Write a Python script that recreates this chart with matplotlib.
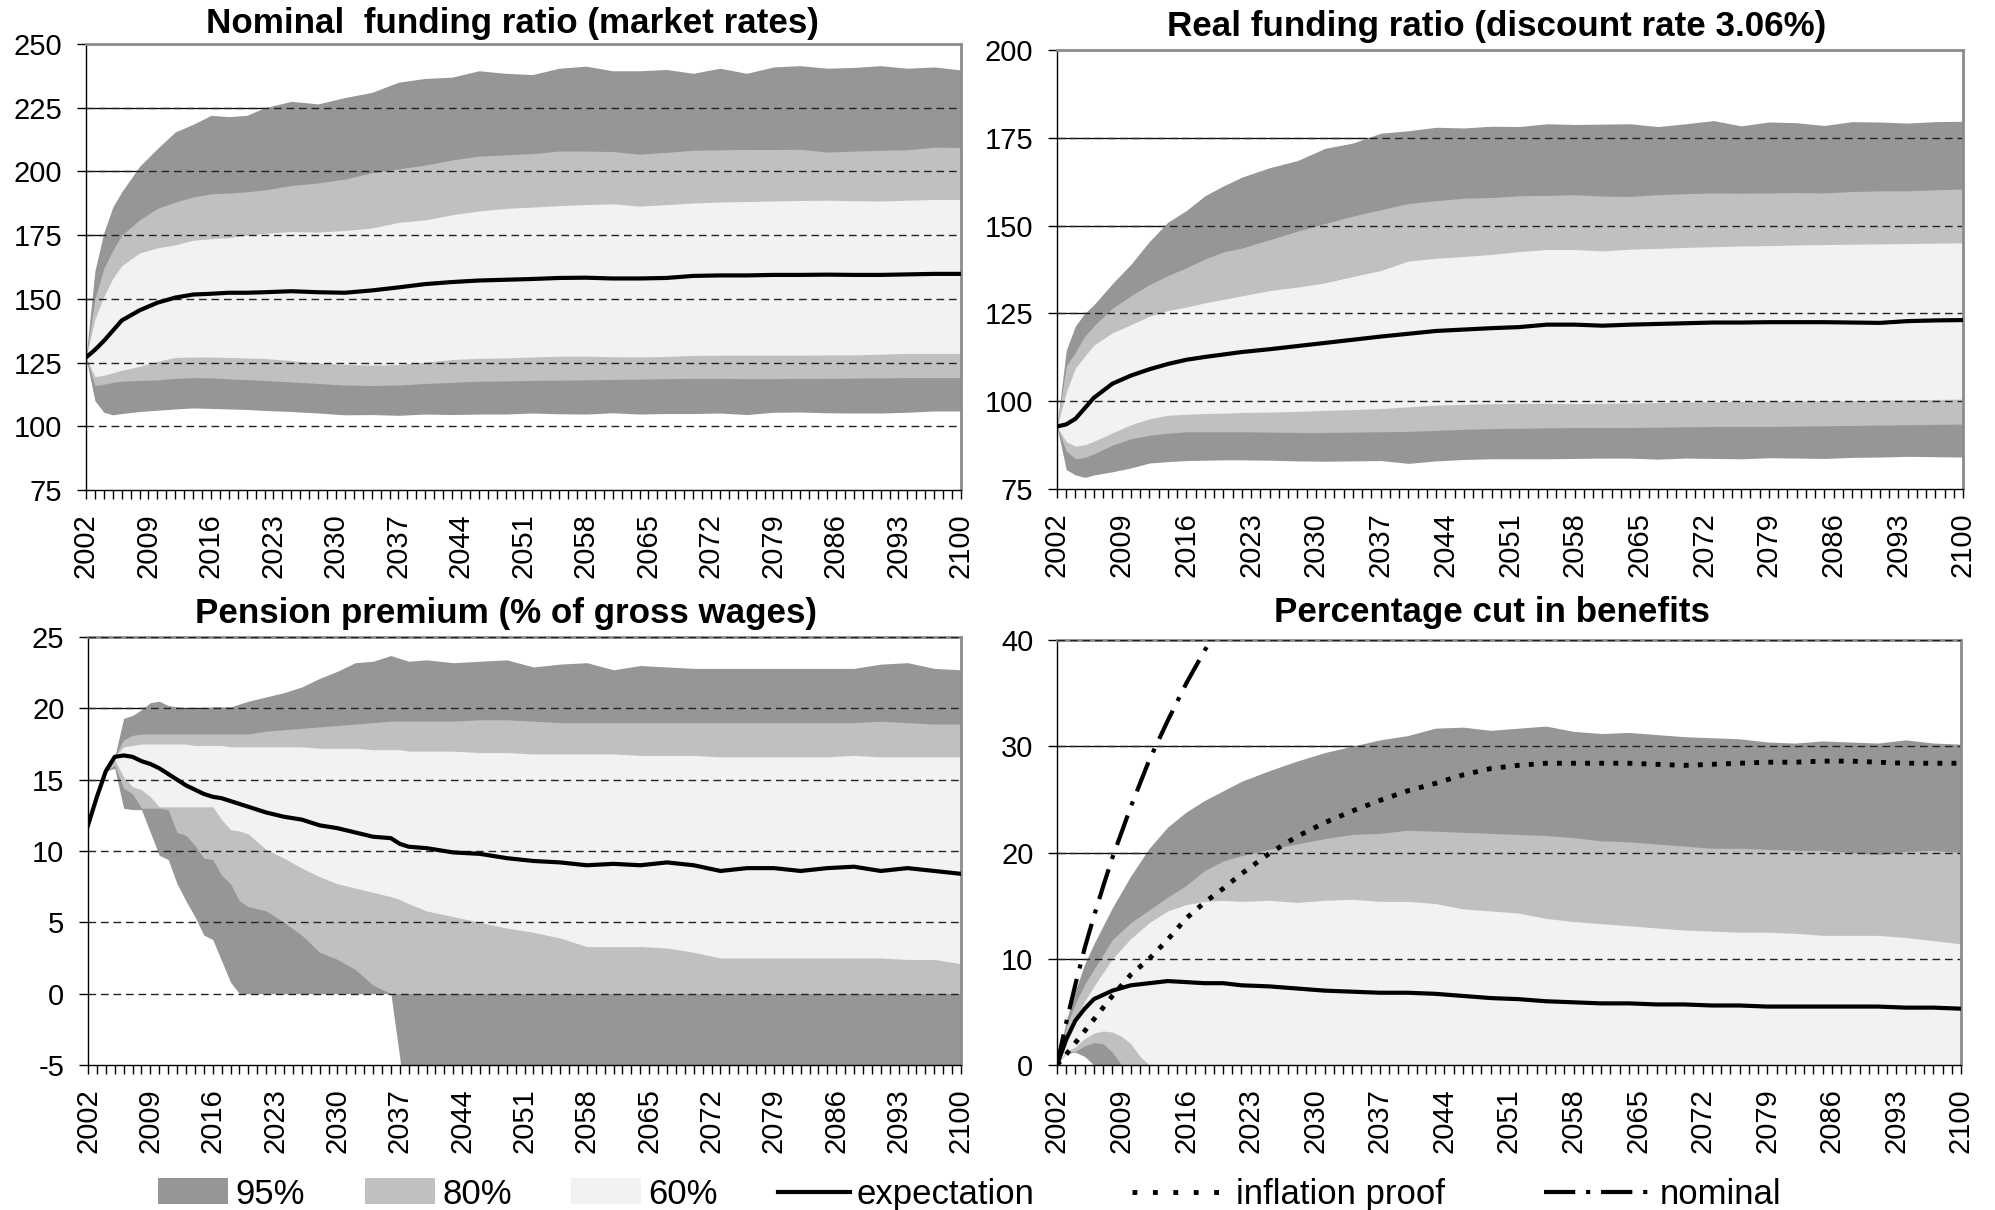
import matplotlib.pyplot as plt
from matplotlib.patches import Rectangle
from matplotlib.lines import Line2D
from matplotlib.ticker import FixedLocator, MultipleLocator

plt.rcParams['font.family'] = ['Liberation Sans', 'DejaVu Sans']
plt.rcParams['axes.unicode_minus'] = False

W, H = 1995, 1210
DARK, MID, LIGHT = '#969696', '#c0c0c0', '#f2f2f2'

# common yearly grid (denser early on, where the fans open up)
years = [2002, 2003, 2004, 2005, 2006, 2008, 2010, 2012, 2014, 2016, 2018, 2020, 2022,
         2025, 2028, 2031, 2034, 2037, 2040, 2043, 2046, 2049, 2052, 2055, 2058, 2061,
         2064, 2067, 2070, 2073, 2076, 2079, 2082, 2085, 2088, 2091, 2094, 2097, 2100]

# nominal funding ratio
nom_exp = [127, 130, 133.5, 137.5, 141.5, 145.5, 148.5, 150.5, 151.7, 152, 152.4, 152.4, 152.6,
           153, 152.6, 152.4, 153.3, 154.5, 155.8, 156.6, 157.2, 157.5, 157.8, 158.2, 158.3, 158,
           158, 158.2, 159, 159.2, 159.2, 159.4, 159.4, 159.5, 159.4, 159.4, 159.6, 159.8, 159.8]
nom_hi95 = [127, 161, 176, 186, 192, 202, 209, 215.5, 218.5, 222, 221.5, 222, 225,
            227.5, 226.5, 229, 231, 235, 236.5, 237, 239.5, 238.5, 238, 240.5, 241.3, 239.5,
            239.5, 240, 238.5, 240.5, 238.5, 241, 241.5, 240.5, 240.8, 241.5, 240.5, 241, 239.8]
nom_hi80 = [127, 150, 162, 169, 175, 181, 185.5, 188, 190, 191.2, 191.5, 192, 192.7,
            194.5, 195.5, 197, 199.5, 201, 202.5, 204.5, 206, 206.5, 207, 208, 208, 207.8,
            206.8, 207.5, 208.3, 208.5, 208.6, 208.6, 208.7, 207.6, 208, 208.3, 208.5, 209.5, 209.4]
nom_hi60 = [127, 142, 151, 158, 163, 168, 170, 171.2, 173, 173.6, 174, 175, 175.7,
            176.4, 176.2, 176.8, 177.8, 180, 181, 183, 184.5, 185.5, 186, 186.6, 187, 187.3,
            186.4, 187, 187.6, 188, 188.2, 188.4, 188.6, 188.7, 188.5, 188.4, 188.7, 189, 189]
nom_lo60 = [127, 119.5, 120, 121, 122, 123.5, 125.5, 127, 127.2, 127.2, 127, 126.8, 126.6,
            125.8, 124.8, 124.3, 124, 124.2, 125.2, 126.2, 126.7, 126.8, 127.2, 127.5, 127.5, 127.3,
            127.2, 127.4, 127.8, 127.9, 127.9, 127.9, 127.9, 128, 128, 128.3, 128.6, 128.6, 128.6]
nom_lo80 = [127, 116, 116.5, 117.2, 117.7, 118, 118.2, 118.8, 119.1, 119, 118.6, 118.3, 118,
            117.4, 116.8, 116.2, 116, 116.2, 116.8, 117.2, 117.7, 117.8, 118, 118.1, 118.2, 118.4,
            118.5, 118.7, 118.8, 118.8, 118.7, 118.7, 118.8, 118.8, 118.9, 119, 119.1, 119.1, 119.1]
nom_lo95 = [127, 110, 105.5, 104.5, 105, 105.8, 106.3, 106.8, 107.2, 107, 106.8, 106.6, 106.2,
            105.8, 105.2, 104.5, 104.6, 104.3, 104.8, 104.6, 104.8, 104.8, 105.2, 104.9, 104.8, 105.3,
            104.8, 105, 105, 105.2, 104.6, 105.5, 105.6, 105.3, 105.2, 105.2, 105.5, 106, 106]

# real funding ratio
real_exp = [92.8, 93.4, 95, 98, 101, 105, 107.3, 109.1, 110.6, 111.8, 112.6, 113.3, 114,
            114.8, 115.7, 116.6, 117.5, 118.4, 119.2, 120, 120.4, 120.8, 121.1, 121.8, 121.8, 121.5,
            121.8, 122, 122.2, 122.4, 122.4, 122.5, 122.5, 122.5, 122.4, 122.3, 122.8, 123, 123.1]
real_hi95 = [92.8, 114.5, 121.5, 125, 127.5, 133.5, 139, 145.5, 151, 154.3, 158.5, 161.3, 163.8,
             166.5, 168.5, 172, 173.5, 176.3, 177, 178, 177.8, 178.3, 178.2, 179, 178.8, 178.9,
             179, 178.2, 179, 179.9, 178.4, 179.5, 179.3, 178.5, 179.6, 179.5, 179.2, 179.6, 179.7]
real_hi80 = [92.8, 110, 114, 118.5, 121.5, 126.5, 130, 133.2, 135.8, 138, 140.5, 142.5, 143.6,
             146, 148.4, 150.6, 152.7, 154.5, 156.3, 157.1, 157.8, 158, 158.5, 158.6, 158.8, 158.4,
             158.3, 158.8, 159.1, 159.3, 159.2, 159.3, 159.4, 159.3, 159.7, 159.9, 159.9, 160.2, 160.4]
real_hi60 = [92.8, 102.5, 109.5, 112.8, 116, 119.5, 121.8, 124.2, 125.8, 126.8, 128, 129, 130,
             131.5, 132.5, 133.7, 135.5, 137.2, 139.9, 140.7, 141.2, 141.8, 142.6, 143.2, 143.2, 142.8,
             143.3, 143.5, 143.8, 144, 144.2, 144.3, 144.5, 144.6, 144.7, 144.8, 144.9, 145, 145.1]
real_lo60 = [92.8, 88.5, 87.2, 87.6, 88.6, 91, 93.3, 95, 96, 96.3, 96.5, 96.6, 96.8,
             96.9, 97.1, 97.4, 97.6, 97.9, 98.4, 98.9, 99.1, 99.3, 99.4, 99.4, 99.3, 99.4,
             99.5, 99.6, 99.8, 99.8, 99.9, 100, 100, 100.1, 100.1, 100.3, 100.4, 100.5, 100.6]
real_lo80 = [92.8, 85.8, 83.6, 84, 85, 87.5, 89.3, 90.3, 90.9, 91.3, 91.3, 91.3, 91.3,
             91.2, 91.1, 91.1, 91.2, 91.3, 91.4, 91.7, 92, 92.2, 92.3, 92.4, 92.5, 92.5,
             92.5, 92.6, 92.7, 92.8, 92.8, 92.8, 92.9, 93, 93.1, 93.2, 93.3, 93.4, 93.5]
real_lo95 = [92.8, 80.5, 79, 78.3, 79, 79.9, 81, 82.4, 82.8, 83.1, 83.2, 83.3, 83.3,
             83.2, 83, 82.9, 83, 83.1, 82.3, 83, 83.4, 83.6, 83.6, 83.6, 83.7, 83.8,
             83.8, 83.5, 83.8, 83.7, 83.6, 83.9, 83.8, 83.7, 84, 84.1, 84.3, 84.2, 84.1]

# pension premium (own grid, yearly in the first decades)
prem_years = [2002, 2003, 2004, 2005, 2006, 2007, 2008, 2009, 2010, 2011, 2012, 2013, 2014,
              2015, 2016, 2017, 2018, 2019, 2020, 2022, 2024, 2026, 2028, 2030, 2032, 2034,
              2036, 2037, 2038, 2040, 2043, 2046, 2049, 2052, 2055, 2058, 2061, 2064, 2067,
              2070, 2073, 2076, 2079, 2082, 2085, 2088, 2091, 2094, 2097, 2100]
prem_exp = [11.8, 13.8, 15.6, 16.6, 16.7, 16.6, 16.3, 16.1, 15.8, 15.4, 15.0, 14.6, 14.3,
            14.0, 13.8, 13.7, 13.5, 13.3, 13.1, 12.7, 12.4, 12.2, 11.8, 11.6, 11.3, 11.0,
            10.9, 10.5, 10.3, 10.2, 9.9, 9.8, 9.5, 9.3, 9.2, 9.0, 9.1, 9.0, 9.2,
            9.0, 8.6, 8.8, 8.8, 8.6, 8.8, 8.9, 8.6, 8.8, 8.6, 8.4]
prem_hi95 = [11.8, 13.8, 15.6, 16.6, 19.3, 19.5, 19.9, 20.4, 20.5, 20.2, 20.1, 20.0, 20.0,
             20.0, 20.1, 20.1, 20.1, 20.3, 20.5, 20.8, 21.1, 21.5, 22.1, 22.6, 23.2, 23.3,
             23.7, 23.5, 23.3, 23.4, 23.2, 23.3, 23.4, 22.9, 23.1, 23.2, 22.7, 23.0, 22.9,
             22.8, 22.8, 22.8, 22.8, 22.8, 22.8, 22.8, 23.1, 23.2, 22.8, 22.7]
prem_hi80 = [11.8, 13.8, 15.6, 16.6, 17.8, 18.1, 18.2, 18.2, 18.2, 18.2, 18.2, 18.2, 18.2,
             18.2, 18.2, 18.2, 18.2, 18.2, 18.2, 18.4, 18.5, 18.6, 18.7, 18.8, 18.9, 19.0,
             19.1, 19.1, 19.1, 19.1, 19.1, 19.2, 19.2, 19.1, 19.0, 19.0, 19.0, 19.0, 19.0,
             19.0, 19.0, 19.0, 19.0, 19.0, 19.0, 19.0, 19.1, 19.0, 18.9, 18.9]
prem_hi60 = [11.8, 13.8, 15.6, 16.6, 17.3, 17.4, 17.5, 17.5, 17.5, 17.5, 17.5, 17.5, 17.4,
             17.4, 17.4, 17.4, 17.3, 17.3, 17.3, 17.3, 17.3, 17.3, 17.2, 17.2, 17.2, 17.1,
             17.1, 17.1, 17.0, 17.0, 17.0, 16.9, 16.9, 16.8, 16.8, 16.8, 16.8, 16.7, 16.7,
             16.7, 16.6, 16.6, 16.6, 16.6, 16.6, 16.7, 16.6, 16.6, 16.6, 16.6]
prem_lo60 = [11.8, 13.8, 15.6, 16.4, 15.2, 14.5, 14.3, 13.8, 13.1, 13.1, 13.1, 13.1, 13.1,
             13.1, 13.1, 12.2, 11.5, 11.4, 11.2, 10.1, 9.5, 8.8, 8.2, 7.7, 7.4, 7.1,
             6.8, 6.6, 6.3, 5.8, 5.4, 5.0, 4.6, 4.3, 3.9, 3.3, 3.3, 3.3, 3.2,
             2.9, 2.5, 2.5, 2.5, 2.5, 2.5, 2.5, 2.5, 2.4, 2.4, 2.1]
prem_lo80 = [11.8, 13.8, 15.6, 16.0, 14.4, 14.0, 13.0, 13.0, 13.0, 12.9, 11.3, 11.1, 10.4,
             9.5, 9.4, 8.3, 7.7, 6.5, 6.1, 5.8, 5.0, 4.1, 2.9, 2.4, 1.7, 0.6,
             0, 0, 0, 0, 0, 0, 0, 0, 0, 0, 0, 0, 0,
             0, 0, 0, 0, 0, 0, 0, 0, 0, 0, 0]
prem_lo95 = [11.8, 13.8, 15.6, 15.8, 13.0, 12.9, 12.9, 11.3, 9.7, 9.4, 7.7, 6.5, 5.4,
             4.1, 3.8, 2.3, 0.8, 0, 0, 0, 0, 0, 0, 0, 0, 0,
             0, -4.5, -10, -10, -10, -10, -10, -10, -10, -10, -10, -10, -10,
             -10, -10, -10, -10, -10, -10, -10, -10, -10, -10, -10]

# percentage cut in benefits
cut_exp = [0, 2.4, 4.2, 5.3, 6.2, 7.0, 7.5, 7.7, 7.9, 7.8, 7.7, 7.7, 7.5,
           7.4, 7.2, 7.0, 6.9, 6.8, 6.8, 6.7, 6.5, 6.3, 6.2, 6.0, 5.9, 5.8,
           5.8, 5.7, 5.7, 5.6, 5.6, 5.5, 5.5, 5.5, 5.5, 5.5, 5.4, 5.4, 5.3]
cut_hi95 = [0, 4.2, 7.0, 9.5, 11.4, 14.8, 17.8, 20.4, 22.4, 23.8, 24.9, 25.8, 26.7,
            27.7, 28.6, 29.4, 30.0, 30.6, 31.0, 31.7, 31.8, 31.5, 31.7, 31.9, 31.4, 31.2,
            31.3, 31.1, 30.9, 30.8, 30.7, 30.4, 30.3, 30.5, 30.4, 30.3, 30.6, 30.3, 30.2]
cut_hi80 = [0, 3.6, 5.8, 7.6, 9.0, 11.8, 13.4, 14.6, 15.8, 16.9, 18.3, 19.2, 19.7,
            20.3, 20.8, 21.3, 21.7, 21.8, 22.1, 22.0, 21.9, 21.8, 21.7, 21.6, 21.4, 21.1,
            21.0, 20.8, 20.6, 20.4, 20.4, 20.3, 20.2, 20.2, 20.0, 19.8, 20.1, 20.2, 20.0]
cut_hi60 = [0, 2.7, 4.4, 6.0, 7.4, 10.0, 11.9, 13.4, 14.5, 15.1, 15.4, 15.5, 15.4,
            15.5, 15.3, 15.5, 15.6, 15.4, 15.4, 15.2, 14.7, 14.5, 14.3, 13.8, 13.5, 13.3,
            13.1, 12.9, 12.7, 12.6, 12.5, 12.5, 12.4, 12.2, 12.2, 12.2, 12.0, 11.7, 11.4]
cut_infl = [0, 1.0, 2.1, 3.2, 4.3, 6.5, 8.5, 10.0, 11.8, 13.8, 15.3, 16.6, 18.0,
            19.9, 21.5, 22.8, 23.9, 24.9, 25.8, 26.5, 27.3, 27.9, 28.2, 28.4, 28.4, 28.4,
            28.4, 28.3, 28.2, 28.3, 28.4, 28.5, 28.5, 28.6, 28.6, 28.5, 28.4, 28.4, 28.4]
cut_low_years = [2002, 2003, 2004, 2005, 2006, 2007, 2008, 2009, 2010, 2011, 2012, 2013, 2100]
cut_lo60 = [0, 1.3, 1.7, 2.5, 3.0, 3.2, 3.1, 2.7, 2.0, 0.8, 0, 0, 0]
cut_lo80 = [0, 1.1, 1.3, 1.8, 2.1, 2.0, 1.2, 0, 0, 0, 0, 0, 0]
cut_lo95 = [0, 1.1, 1.2, 0.8, 0, 0, 0, 0, 0, 0, 0, 0, 0]
nomcut_years = [2002, 2003, 2004, 2005, 2006, 2007, 2008, 2010, 2012, 2014, 2016, 2018, 2020]
nomcut = [0, 4.0, 7.6, 11.0, 14.0, 16.8, 19.5, 24.3, 28.7, 32.4, 35.9, 39.0, 42.0]

INFL_STYLE = (0, (1, 1.9))
NOM_STYLE = (0, (7.5, 2.6, 1, 2.6))

fig = plt.figure(figsize=(W / 100, H / 100), dpi=100)


def make_axes(x0, y0, x1, y1, ymin, ymax, step, title, tx, ty, top_dash=False):
    ax = fig.add_axes([x0 / W, 1 - y1 / H, (x1 - x0) / W, (y1 - y0) / H])
    ax.set_xlim(2002, 2100)
    ax.set_ylim(ymin, ymax)
    ticks = list(range(ymin, ymax + 1, step))
    ax.set_yticks(ticks)
    ax.xaxis.set_major_locator(FixedLocator(range(2002, 2101, 7)))
    ax.xaxis.set_minor_locator(MultipleLocator(1))
    ax.set_xticklabels([str(y) for y in range(2002, 2101, 7)], rotation=90)
    ax.tick_params(which='both', direction='out', length=6.5, width=1, labelsize=21, pad=10.5)
    for v in ticks[1:]:
        # solid grid behind the fans, dashed copy on top of them
        ax.axhline(v, color='black', lw=0.9, zorder=0.5)
        if v < ymax or top_dash:
            ax.axhline(v, color='#222222', lw=1.0, ls=(0, (5.5, 3.5)), zorder=2.6 if v == ymax else 2)
    for side in ('top', 'right'):
        ax.spines[side].set_color('#8c8c8c')
        ax.spines[side].set_linewidth(2.0)
    for side in ('left', 'bottom'):
        ax.spines[side].set_linewidth(1.0)
    fig.text(tx / W, 1 - ty / H, title, ha='center', va='baseline',
             fontsize=25.2, fontweight='bold')
    return ax


def fan(ax, x, hi95, hi80, hi60, xl, lo60, lo80, lo95):
    ymin = ax.get_ylim()[0]
    layers = [(x, hi95, DARK), (x, hi80, MID), (x, hi60, LIGHT),
              (xl, lo60, MID), (xl, lo80, DARK), (xl, lo95, 'white')]
    for xs, ys, c in layers:
        ax.fill_between(xs, ymin, ys, color=c, lw=0, zorder=1)


ax1 = make_axes(86, 44, 961, 490, 75, 250, 25, 'Nominal  funding ratio (market rates)', 512, 33)
fan(ax1, years, nom_hi95, nom_hi80, nom_hi60, years, nom_lo60, nom_lo80, nom_lo95)
ax1.plot(years, nom_exp, color='black', lw=3.0, zorder=3)

ax2 = make_axes(1057, 50, 1963, 489, 75, 200, 25, 'Real funding ratio (discount rate 3.06%)', 1497, 36)
fan(ax2, years, real_hi95, real_hi80, real_hi60, years, real_lo60, real_lo80, real_lo95)
ax2.plot(years, real_exp, color='black', lw=3.0, zorder=3)

ax3 = make_axes(88, 637, 961, 1065, -5, 25, 5, 'Pension premium (% of gross wages)', 506, 623, top_dash=True)
fan(ax3, prem_years, prem_hi95, prem_hi80, prem_hi60, prem_years, prem_lo60, prem_lo80, prem_lo95)
ax3.plot(prem_years, prem_exp, color='black', lw=3.0, zorder=3)

ax4 = make_axes(1057, 640, 1961, 1065, 0, 40, 10, 'Percentage cut in benefits', 1492, 622, top_dash=True)
fan(ax4, years, cut_hi95, cut_hi80, cut_hi60, cut_low_years, cut_lo60, cut_lo80, cut_lo95)
ax4.plot(years, cut_exp, color='black', lw=3.0, zorder=3)
ax4.plot(years, cut_infl, color='black', lw=3.5, ls=INFL_STYLE, zorder=3)
ax4.plot(nomcut_years, nomcut, color='black', lw=3.0, ls=NOM_STYLE, zorder=3)

# legend along the bottom edge
base = 1 - 1204 / H
mid_y = 1 - 1192 / H
for x0, c, lab in [(158, DARK, '95%'), (365, MID, '80%'), (571, LIGHT, '60%')]:
    fig.add_artist(Rectangle((x0 / W, base), 70 / W, 26 / H, transform=fig.transFigure,
                             facecolor=c, edgecolor='none'))
    fig.text((x0 + 77) / W, base, lab, fontsize=25, va='baseline')
for x0, x1, lw, ls, lab in [(778, 850, 3.0, '-', 'expectation'),
                            (1132, 1230, 3.5, (0, (1, 3.2)), 'inflation proof'),
                            (1544, 1654, 3.0, NOM_STYLE, 'nominal')]:
    fig.add_artist(Line2D([x0 / W, x1 / W], [mid_y, mid_y], transform=fig.transFigure,
                          color='black', lw=lw, ls=ls))
    fig.text((x1 + 6) / W, base, lab, fontsize=25, va='baseline')

fig.savefig('out.png', dpi=100, facecolor='white')
